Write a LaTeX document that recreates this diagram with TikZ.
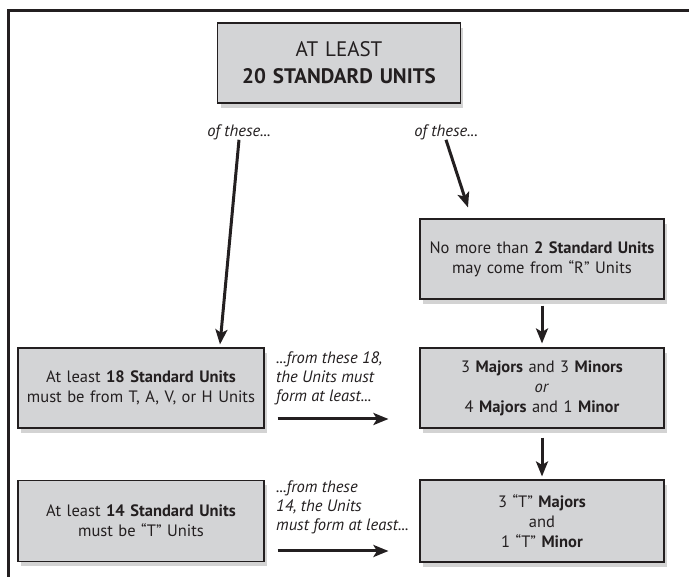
\documentclass[tikz,border=0pt]{standalone}
\usepackage{fontspec}
\setmainfont{PT Sans}
\usetikzlibrary{arrows.meta,positioning,shadows}
\definecolor{unitGray}{HTML}{D3D4D6}
\definecolor{unitInk} {HTML}{231F20}
\begin{document}
\begin{tikzpicture}[x=1pt,y=-1pt,>={Stealth[length=15pt,width=12pt,inset=3.5pt]},
      ub/.style={draw=unitInk,line width=1.1pt,fill=unitGray,text=unitInk,
                 minimum width=244pt,minimum height=80pt,text width=236pt,align=center,
                 font=\fontsize{16.5}{20}\selectfont,
                 drop shadow={shadow xshift=3pt,shadow yshift=-5pt,opacity=0.35}},
      note/.style={inner sep=0pt,text=unitInk,align=left,font=\itshape\fontsize{16.5}{19}\selectfont},
      arr/.style={->,line width=3pt,unitInk}]
    \useasboundingbox (0,0) rectangle (689,577);
    % frame
    \draw[line width=3pt,unitInk] (8,577) -- (8,11) -- (689,11);
    % boxes
    \node[ub,minimum width=242pt,font=\fontsize{21}{27}\selectfont] (total) at (339,63)
       {AT LEAST\\ \textbf{20 STANDARD UNITS}};
    \node[note] (ofl) at (239,132) {of these...};
    \node[note] (ofr) at (446,132) {of these...};
    \node[ub] (runits) at (542,259) {No more than \textbf{2 Standard Units}\\ may come from “R” Units};
    \node[ub,minimum width=246pt] (tavh) at (141,388) {At least \textbf{18 Standard Units}\\ must be from T, A, V, or H Units};
    \node[ub] (majmin) at (542,388) {3 \textbf{Majors} and 3 \textbf{Minors}\\ \textit{or}\\ 4 \textbf{Majors} and 1 \textbf{Minor}};
    \node[ub,minimum width=246pt,minimum height=81pt] (tunits) at (141,521) {At least \textbf{14 Standard Units}\\ must be “T” Units};
    \node[ub,minimum height=82pt] (tmajmin) at (542,521) {3 “T” \textbf{Majors}\\ and\\ 1 “T” \textbf{Minor}};
    \node[note,anchor=north west] (from18) at (276,352) {...from these 18,\\ the Units must\\ form at least...};
    \node[note,anchor=north west] (from14) at (276,481) {...from these\\ 14, the Units\\ must form at least...};
    % arrows
    \draw[arr] (ofl.south) -- ([xshift=79pt,yshift=3pt]tavh.north);
    \draw[arr] (ofr.south) -- ([xshift=-74pt,yshift=11pt]runits.north);
    \draw[arr,shorten <=6pt,shorten >=4pt] (runits) -- (majmin);
    \draw[arr,shorten <=9pt,shorten >=3pt] (majmin) -- (tmajmin);
    \draw[arr,shorten <=13pt,shorten >=31pt] ([yshift=-31pt]tavh.east) -- ([yshift=-31pt]majmin.west);
    \draw[arr,shorten <=13pt,shorten >=31pt] ([yshift=-30pt]tunits.east) -- ([yshift=-30pt]tmajmin.west);
  \end{tikzpicture}
\end{document}
